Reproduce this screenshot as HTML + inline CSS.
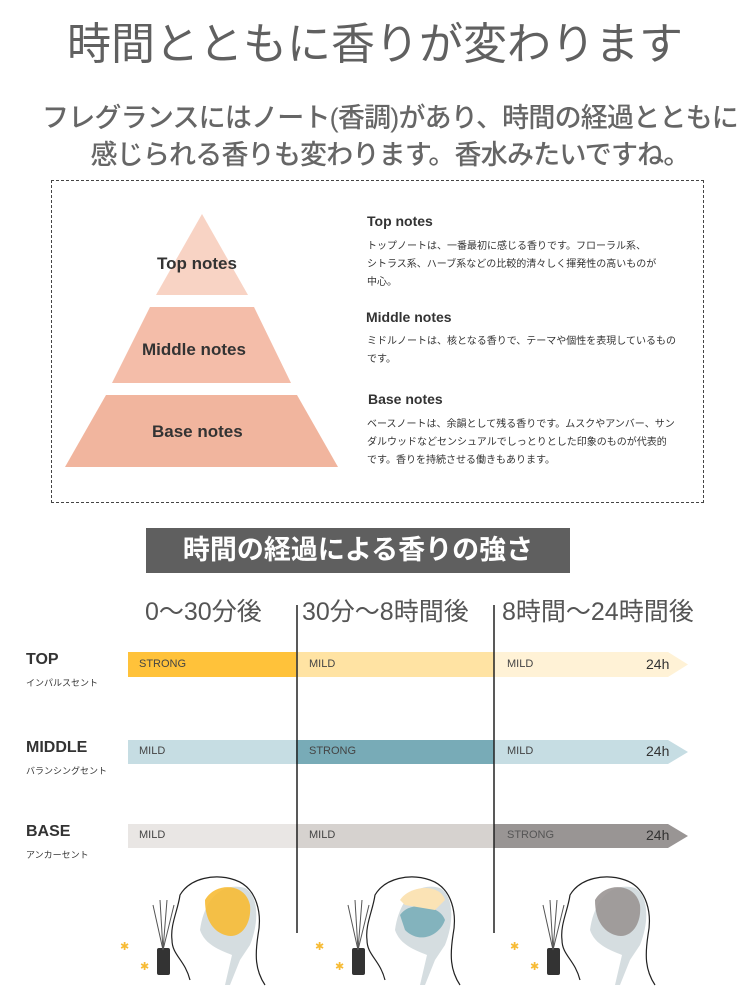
<!DOCTYPE html>
<html><head><meta charset="utf-8"><style>
body{margin:0;width:750px;height:1000px;background:#fff;position:relative;overflow:hidden;font-family:"Liberation Sans","Noto Sans CJK JP",sans-serif;color:#333}
.a{position:absolute;white-space:nowrap}
</style></head><body>
<div class="a" style="left:0;width:750px;top:8px;text-align:center;font-size:44px;color:#606060;letter-spacing:0px">時間とともに香りが変わります</div>
<div class="a" style="left:15px;width:750px;top:100px;text-align:center;font-size:27px;color:#666;line-height:37px;letter-spacing:-0.8px;font-weight:500">フレグランスにはノート(香調)があり、時間の経過とともに<br>感じられる香りも変わります。香水みたいですね。</div>
<div class="a" style="left:51px;top:180px;width:651px;height:321px;border:1px dashed #444"></div>
<svg class="a" style="left:0;top:0" width="750" height="1000">
<polygon points="202,214 248,295 156,295" fill="#f8d3c4"/>
<polygon points="150,307 254,307 291,383 112,383" fill="#f4bda9"/>
<polygon points="106,395 297,395 338,467 65,467" fill="#f1b59e"/>
<rect x="128" y="652" width="168" height="25" fill="#ffc23a"/>
<rect x="296" y="652" width="198" height="25" fill="#ffe3a3"/>
<polygon points="494,652 668,652 688,664.5 668,677 494,677" fill="#fff2d6"/>
<rect x="128" y="740" width="168" height="24" fill="#c6dde3"/>
<rect x="296" y="740" width="198" height="24" fill="#78abb7"/>
<polygon points="494,740 668,740 688,752 668,764 494,764" fill="#c6dde3"/>
<rect x="128" y="824" width="168" height="24" fill="#e9e6e4"/>
<rect x="296" y="824" width="198" height="24" fill="#d6d2cf"/>
<polygon points="494,824 668,824 688,836 668,848 494,848" fill="#999594"/>
<line x1="297" y1="605" x2="297" y2="933" stroke="#222" stroke-width="1.5"/>
<line x1="494" y1="605" x2="494" y2="933" stroke="#222" stroke-width="1.5"/>
<g id="h">
<path d="M200,930 C205,895 225,882 245,888 C258,895 260,920 250,945 L240,960 L230,985 L225,985 L232,955 C220,950 205,945 200,930 Z" fill="#d5dde0"/>
<path d="M190,980 C185,960 172,955 172,940 C170,925 178,910 180,895 C190,878 215,873 235,880 C258,888 262,915 258,935 C255,955 255,970 265,985" fill="none" stroke="#222" stroke-width="1.2"/>
<rect x="157" y="948" width="13" height="27" rx="2" fill="#333"/>
<g stroke="#555"><line x1="163" y1="950" x2="153" y2="905"/><line x1="163" y1="950" x2="160" y2="900"/><line x1="163" y1="950" x2="167" y2="900"/><line x1="163" y1="950" x2="174" y2="905"/></g>
</g>
<path d="M205,900 C215,882 245,882 250,905 C252,925 240,940 225,935 C215,932 205,922 205,900 Z" fill="#f7bb35" opacity="0.9"/>
<use href="#h" x="195"/>
<path d="M400,915 C410,900 440,905 445,920 C440,935 420,945 405,930 Z" fill="#7aaeb9" opacity="0.9"/>
<path d="M400,900 C410,885 440,883 445,900 L435,910 L405,905 Z" fill="#fbe3b5"/>
<use href="#h" x="390"/>
<path d="M595,900 C605,882 635,882 640,905 C642,925 630,940 615,935 C605,932 595,922 595,900 Z" fill="#9a9594" opacity="0.9"/>
<g font-size="11" fill="#f7bb35"><text x="120" y="950">✱</text><text x="140" y="970">✱</text></g>
<g font-size="11" fill="#f7bb35"><text x="315" y="950">✱</text><text x="335" y="970">✱</text></g>
<g font-size="11" fill="#f7bb35"><text x="510" y="950">✱</text><text x="530" y="970">✱</text></g>
</svg>
<div class="a" style="left:157px;top:254px;font-size:17px;font-weight:bold">Top notes</div>
<div class="a" style="left:142px;top:340px;font-size:17px;font-weight:bold">Middle notes</div>
<div class="a" style="left:152px;top:422px;font-size:17px;font-weight:bold">Base notes</div>
<div class="a" style="left:367px;top:213px;font-size:14px;font-weight:bold">Top notes</div>
<div class="a" style="left:367px;top:238px;font-size:10px;line-height:18px">トップノートは、一番最初に感じる香りです。フローラル系、<br>シトラス系、ハーブ系などの比較的清々しく揮発性の高いものが<br>中心。</div>
<div class="a" style="left:366px;top:309px;font-size:14px;font-weight:bold">Middle notes</div>
<div class="a" style="left:367px;top:333px;font-size:10px;line-height:18px">ミドルノートは、核となる香りで、テーマや個性を表現しているもの<br>です。</div>
<div class="a" style="left:368px;top:391px;font-size:14px;font-weight:bold">Base notes</div>
<div class="a" style="left:367px;top:416px;font-size:10px;line-height:18px">ベースノートは、余韻として残る香りです。ムスクやアンバー、サン<br>ダルウッドなどセンシュアルでしっとりとした印象のものが代表的<br>です。香りを持続させる働きもあります。</div>
<div class="a" style="left:146px;top:528px;width:424px;height:45px;background:#5f5f5f;color:#fff;font-size:27px;font-weight:bold;line-height:45px;text-align:center">時間の経過による香りの強さ</div>
<div class="a" style="left:145px;top:592px;font-size:25px;color:#555">0〜30分後</div>
<div class="a" style="left:302px;top:592px;font-size:25px;color:#555">30分〜8時間後</div>
<div class="a" style="left:502px;top:592px;font-size:25px;color:#555">8時間〜24時間後</div>
<div class="a" style="left:26px;top:651px;font-size:16px;font-weight:bold">TOP</div>
<div class="a" style="left:26px;top:676px;font-size:9px">インパルスセント</div>
<div class="a" style="left:26px;top:739px;font-size:16px;font-weight:bold">MIDDLE</div>
<div class="a" style="left:26px;top:764px;font-size:9px">バランシングセント</div>
<div class="a" style="left:26px;top:823px;font-size:16px;font-weight:bold">BASE</div>
<div class="a" style="left:26px;top:848px;font-size:9px">アンカーセント</div>
<div class="a" style="left:139px;top:658px;font-size:11px;color:#444">STRONG</div>
<div class="a" style="left:309px;top:658px;font-size:11px;color:#444">MILD</div>
<div class="a" style="left:507px;top:658px;font-size:11px;color:#444">MILD</div>
<div class="a" style="left:646px;top:656px;font-size:14px;color:#333">24h</div>
<div class="a" style="left:139px;top:745px;font-size:11px;color:#444">MILD</div>
<div class="a" style="left:309px;top:745px;font-size:11px;color:#444">STRONG</div>
<div class="a" style="left:507px;top:745px;font-size:11px;color:#444">MILD</div>
<div class="a" style="left:646px;top:743px;font-size:14px;color:#333">24h</div>
<div class="a" style="left:139px;top:829px;font-size:11px;color:#444">MILD</div>
<div class="a" style="left:309px;top:829px;font-size:11px;color:#444">MILD</div>
<div class="a" style="left:507px;top:829px;font-size:11px;color:#555">STRONG</div>
<div class="a" style="left:646px;top:827px;font-size:14px;color:#333">24h</div>
</body></html>
